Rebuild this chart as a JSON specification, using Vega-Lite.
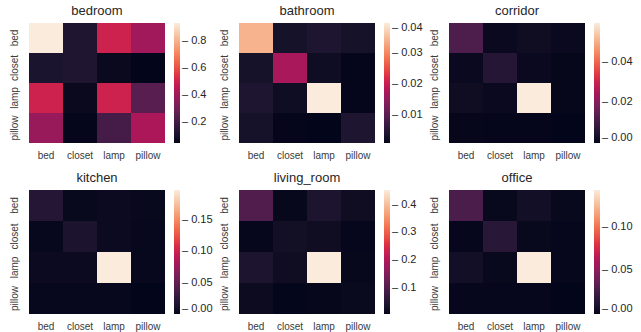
{
  "$schema": "https://vega.github.io/schema/vega-lite/v6.json",
  "padding": {"left": 9, "top": 5, "right": 0, "bottom": 0},
  "background": "white",
  "datasets": {
    "d": [
      {"room": "bedroom", "row": "bed", "col": "bed", "v": 0.93},
      {"room": "bedroom", "row": "bed", "col": "closet", "v": 0.12},
      {"room": "bedroom", "row": "bed", "col": "lamp", "v": 0.5},
      {"room": "bedroom", "row": "bed", "col": "pillow", "v": 0.4},
      {"room": "bedroom", "row": "closet", "col": "bed", "v": 0.11},
      {"room": "bedroom", "row": "closet", "col": "closet", "v": 0.12},
      {"room": "bedroom", "row": "closet", "col": "lamp", "v": 0.06},
      {"room": "bedroom", "row": "closet", "col": "pillow", "v": 0.046},
      {"room": "bedroom", "row": "lamp", "col": "bed", "v": 0.5},
      {"room": "bedroom", "row": "lamp", "col": "closet", "v": 0.06},
      {"room": "bedroom", "row": "lamp", "col": "lamp", "v": 0.5},
      {"room": "bedroom", "row": "lamp", "col": "pillow", "v": 0.25},
      {"room": "bedroom", "row": "pillow", "col": "bed", "v": 0.38},
      {"room": "bedroom", "row": "pillow", "col": "closet", "v": 0.05},
      {"room": "bedroom", "row": "pillow", "col": "lamp", "v": 0.21},
      {"room": "bedroom", "row": "pillow", "col": "pillow", "v": 0.42},

      {"room": "bathroom", "row": "bed", "col": "bed", "v": 0.034},
      {"room": "bathroom", "row": "bed", "col": "closet", "v": 0.003},
      {"room": "bathroom", "row": "bed", "col": "lamp", "v": 0.004},
      {"room": "bathroom", "row": "bed", "col": "pillow", "v": 0.003},
      {"room": "bathroom", "row": "closet", "col": "bed", "v": 0.003},
      {"room": "bathroom", "row": "closet", "col": "closet", "v": 0.017},
      {"room": "bathroom", "row": "closet", "col": "lamp", "v": 0.002},
      {"room": "bathroom", "row": "closet", "col": "pillow", "v": 0.001},
      {"room": "bathroom", "row": "lamp", "col": "bed", "v": 0.004},
      {"room": "bathroom", "row": "lamp", "col": "closet", "v": 0.002},
      {"room": "bathroom", "row": "lamp", "col": "lamp", "v": 0.0396},
      {"room": "bathroom", "row": "lamp", "col": "pillow", "v": 0.001},
      {"room": "bathroom", "row": "pillow", "col": "bed", "v": 0.003},
      {"room": "bathroom", "row": "pillow", "col": "closet", "v": 0.001},
      {"room": "bathroom", "row": "pillow", "col": "lamp", "v": 0.0008},
      {"room": "bathroom", "row": "pillow", "col": "pillow", "v": 0.004},

      {"room": "corridor", "row": "bed", "col": "bed", "v": 0.012},
      {"room": "corridor", "row": "bed", "col": "closet", "v": 0.001},
      {"room": "corridor", "row": "bed", "col": "lamp", "v": 0.002},
      {"room": "corridor", "row": "bed", "col": "pillow", "v": 0.001},
      {"room": "corridor", "row": "closet", "col": "bed", "v": 0.001},
      {"room": "corridor", "row": "closet", "col": "closet", "v": 0.006},
      {"room": "corridor", "row": "closet", "col": "lamp", "v": 0.001},
      {"room": "corridor", "row": "closet", "col": "pillow", "v": 0.0005},
      {"room": "corridor", "row": "lamp", "col": "bed", "v": 0.002},
      {"room": "corridor", "row": "lamp", "col": "closet", "v": 0.001},
      {"room": "corridor", "row": "lamp", "col": "lamp", "v": 0.059},
      {"room": "corridor", "row": "lamp", "col": "pillow", "v": 0.0005},
      {"room": "corridor", "row": "pillow", "col": "bed", "v": 0.0005},
      {"room": "corridor", "row": "pillow", "col": "closet", "v": 0.0003},
      {"room": "corridor", "row": "pillow", "col": "lamp", "v": 0.0003},
      {"room": "corridor", "row": "pillow", "col": "pillow", "v": 0.0},

      {"room": "kitchen", "row": "bed", "col": "bed", "v": 0.02},
      {"room": "kitchen", "row": "bed", "col": "closet", "v": 0.003},
      {"room": "kitchen", "row": "bed", "col": "lamp", "v": 0.004},
      {"room": "kitchen", "row": "bed", "col": "pillow", "v": 0.003},
      {"room": "kitchen", "row": "closet", "col": "bed", "v": 0.002},
      {"room": "kitchen", "row": "closet", "col": "closet", "v": 0.015},
      {"room": "kitchen", "row": "closet", "col": "lamp", "v": 0.004},
      {"room": "kitchen", "row": "closet", "col": "pillow", "v": 0.002},
      {"room": "kitchen", "row": "lamp", "col": "bed", "v": 0.004},
      {"room": "kitchen", "row": "lamp", "col": "closet", "v": 0.004},
      {"room": "kitchen", "row": "lamp", "col": "lamp", "v": 0.198},
      {"room": "kitchen", "row": "lamp", "col": "pillow", "v": 0.002},
      {"room": "kitchen", "row": "pillow", "col": "bed", "v": 0.002},
      {"room": "kitchen", "row": "pillow", "col": "closet", "v": 0.002},
      {"room": "kitchen", "row": "pillow", "col": "lamp", "v": 0.002},
      {"room": "kitchen", "row": "pillow", "col": "pillow", "v": 0.0},

      {"room": "living_room", "row": "bed", "col": "bed", "v": 0.1},
      {"room": "living_room", "row": "bed", "col": "closet", "v": 0.01},
      {"room": "living_room", "row": "bed", "col": "lamp", "v": 0.04},
      {"room": "living_room", "row": "bed", "col": "pillow", "v": 0.02},
      {"room": "living_room", "row": "closet", "col": "bed", "v": 0.008},
      {"room": "living_room", "row": "closet", "col": "closet", "v": 0.025},
      {"room": "living_room", "row": "closet", "col": "lamp", "v": 0.02},
      {"room": "living_room", "row": "closet", "col": "pillow", "v": 0.008},
      {"room": "living_room", "row": "lamp", "col": "bed", "v": 0.04},
      {"room": "living_room", "row": "lamp", "col": "closet", "v": 0.02},
      {"room": "living_room", "row": "lamp", "col": "lamp", "v": 0.453},
      {"room": "living_room", "row": "lamp", "col": "pillow", "v": 0.01},
      {"room": "living_room", "row": "pillow", "col": "bed", "v": 0.015},
      {"room": "living_room", "row": "pillow", "col": "closet", "v": 0.006},
      {"room": "living_room", "row": "pillow", "col": "lamp", "v": 0.009},
      {"room": "living_room", "row": "pillow", "col": "pillow", "v": 0.013},

      {"room": "office", "row": "bed", "col": "bed", "v": 0.028},
      {"room": "office", "row": "bed", "col": "closet", "v": 0.002},
      {"room": "office", "row": "bed", "col": "lamp", "v": 0.006},
      {"room": "office", "row": "bed", "col": "pillow", "v": 0.002},
      {"room": "office", "row": "closet", "col": "bed", "v": 0.001},
      {"room": "office", "row": "closet", "col": "closet", "v": 0.016},
      {"room": "office", "row": "closet", "col": "lamp", "v": 0.002},
      {"room": "office", "row": "closet", "col": "pillow", "v": 0.001},
      {"room": "office", "row": "lamp", "col": "bed", "v": 0.006},
      {"room": "office", "row": "lamp", "col": "closet", "v": 0.002},
      {"room": "office", "row": "lamp", "col": "lamp", "v": 0.142},
      {"room": "office", "row": "lamp", "col": "pillow", "v": 0.001},
      {"room": "office", "row": "pillow", "col": "bed", "v": 0.001},
      {"room": "office", "row": "pillow", "col": "closet", "v": 0.001},
      {"room": "office", "row": "pillow", "col": "lamp", "v": 0.001},
      {"room": "office", "row": "pillow", "col": "pillow", "v": 0.0}
    ]
  },
  "columns": 3,
  "bounds": "flush",
  "spacing": {"column": 74, "row": 47},
  "resolve": {"scale": {"color": "independent"}, "legend": {"color": "independent"}},
  "concat": [
    {
      "title": "bedroom", "width": 136, "height": 120,
      "data": {"name": "d"}, "transform": [{"filter": "datum.room === 'bedroom'"}],
      "mark": {"type": "rect", "strokeWidth": 0},
      "encoding": {
        "x": {"field": "col", "type": "nominal", "title": null},
        "y": {"field": "row", "type": "nominal", "title": null},
        "color": {"field": "v", "type": "quantitative",
          "scale": {"domain": [0.046, 0.93], "range": ["#03051A", "#35193e", "#701f57", "#ad1759", "#e13342", "#f37651", "#f6b48f", "#FAEBDD"]},
          "legend": {"type": "gradient", "values": [0.2, 0.4, 0.6, 0.8], "format": ".1f", "gradientLength": 120, "labelExpr": "'– ' + datum.label"}}
      }
    },
    {
      "title": "bathroom", "width": 136, "height": 120,
      "data": {"name": "d"}, "transform": [{"filter": "datum.room === 'bathroom'"}],
      "mark": {"type": "rect", "strokeWidth": 0},
      "encoding": {
        "x": {"field": "col", "type": "nominal", "title": null},
        "y": {"field": "row", "type": "nominal", "title": null},
        "color": {"field": "v", "type": "quantitative",
          "scale": {"domain": [0.0008, 0.0396], "range": ["#03051A", "#35193e", "#701f57", "#ad1759", "#e13342", "#f37651", "#f6b48f", "#FAEBDD"]},
          "legend": {"type": "gradient", "values": [0.01, 0.02, 0.03, 0.04], "format": ".2f", "gradientLength": 120, "labelExpr": "'– ' + datum.label"}}
      }
    },
    {
      "title": "corridor", "width": 136, "height": 120,
      "data": {"name": "d"}, "transform": [{"filter": "datum.room === 'corridor'"}],
      "mark": {"type": "rect", "strokeWidth": 0},
      "encoding": {
        "x": {"field": "col", "type": "nominal", "title": null},
        "y": {"field": "row", "type": "nominal", "title": null},
        "color": {"field": "v", "type": "quantitative",
          "scale": {"domain": [0, 0.059], "range": ["#03051A", "#35193e", "#701f57", "#ad1759", "#e13342", "#f37651", "#f6b48f", "#FAEBDD"]},
          "legend": {"type": "gradient", "values": [0, 0.02, 0.04], "format": ".2f", "gradientLength": 120, "labelExpr": "'– ' + datum.label"}}
      }
    },
    {
      "title": "kitchen", "width": 136, "height": 124,
      "data": {"name": "d"}, "transform": [{"filter": "datum.room === 'kitchen'"}],
      "mark": {"type": "rect", "strokeWidth": 0},
      "encoding": {
        "x": {"field": "col", "type": "nominal", "title": null},
        "y": {"field": "row", "type": "nominal", "title": null},
        "color": {"field": "v", "type": "quantitative",
          "scale": {"domain": [0, 0.198], "range": ["#03051A", "#35193e", "#701f57", "#ad1759", "#e13342", "#f37651", "#f6b48f", "#FAEBDD"]},
          "legend": {"type": "gradient", "values": [0, 0.05, 0.1, 0.15], "format": ".2f", "gradientLength": 124, "labelExpr": "'– ' + datum.label"}}
      }
    },
    {
      "title": "living_room", "width": 136, "height": 124,
      "data": {"name": "d"}, "transform": [{"filter": "datum.room === 'living_room'"}],
      "mark": {"type": "rect", "strokeWidth": 0},
      "encoding": {
        "x": {"field": "col", "type": "nominal", "title": null},
        "y": {"field": "row", "type": "nominal", "title": null},
        "color": {"field": "v", "type": "quantitative",
          "scale": {"domain": [0.005, 0.453], "range": ["#03051A", "#35193e", "#701f57", "#ad1759", "#e13342", "#f37651", "#f6b48f", "#FAEBDD"]},
          "legend": {"type": "gradient", "values": [0.1, 0.2, 0.3, 0.4], "format": ".1f", "gradientLength": 124, "labelExpr": "'– ' + datum.label"}}
      }
    },
    {
      "title": "office", "width": 136, "height": 124,
      "data": {"name": "d"}, "transform": [{"filter": "datum.room === 'office'"}],
      "mark": {"type": "rect", "strokeWidth": 0},
      "encoding": {
        "x": {"field": "col", "type": "nominal", "title": null},
        "y": {"field": "row", "type": "nominal", "title": null},
        "color": {"field": "v", "type": "quantitative",
          "scale": {"domain": [0, 0.142], "range": ["#03051A", "#35193e", "#701f57", "#ad1759", "#e13342", "#f37651", "#f6b48f", "#FAEBDD"]},
          "legend": {"type": "gradient", "values": [0, 0.05, 0.1], "format": ".2f", "gradientLength": 124, "labelExpr": "'– ' + datum.label"}}
      }
    }
  ],
  "config": {
    "font": "Liberation Sans",
    "view": {"stroke": null},
    "title": {"fontSize": 13, "fontWeight": "normal", "color": "#262626", "offset": 5},
    "axis": {"domain": false, "ticks": false, "labelFontSize": 10, "labelColor": "#3a3a3a", "labelPadding": 7, "grid": false},
    "axisX": {"labelAngle": 0, "minExtent": 20, "maxExtent": 20},
    "axisY": {"labelAngle": 270, "labelPadding": 10, "minExtent": 20, "maxExtent": 20},
    "legend": {"gradientThickness": 6, "title": null, "labelFontSize": 11, "labelColor": "#262626", "offset": 9, "gradientStrokeWidth": 0, "labelOffset": 2, "padding": 0}
  }
}
